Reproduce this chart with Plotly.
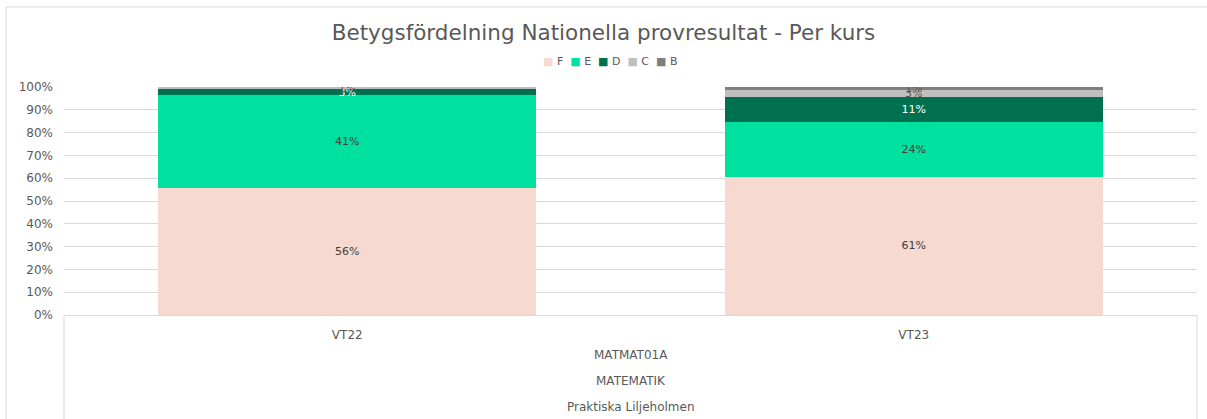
import plotly.graph_objects as go

terms = ["VT22", "VT23"]
grades = ["F", "E", "D", "C", "B"]
share_f = [0.556, 0.607]
share_e = [0.407, 0.238]
share_d = [0.028, 0.112]
share_c = [0.009, 0.032]
share_b = [0.0, 0.011]
course_levels = ["MATMAT01A", "MATEMATIK", "Praktiska Liljeholmen"]

colors = ["#F6D9CF", "#00E09F", "#00704F", "#BFBFBF", "#7F7F7F"]
label_colors = ["#404040", "#404040", "#FFFFFF", "#595959", "#595959"]
font = "'DejaVu Sans', sans-serif"
grey = "#595959"

fig = go.Figure()
for grade, vals, col, tcol in zip(grades, [share_f, share_e, share_d, share_c, share_b], colors, label_colors):
    fig.add_trace(
        go.Bar(
            x=terms,
            y=vals,
            name=grade,
            marker=dict(color=col, line=dict(width=0)),
            text=[f"{v:.0%}" if v > 0 else "" for v in vals],
            textposition="inside",
            insidetextanchor="middle",
            textangle=0,
            textfont=dict(color=tcol, size=11, family=font),
            constraintext="none",
            hoverinfo="name+y",
            showlegend=False,
        )
    )

# compact legend drawn as one line of text
legend_html = "&nbsp;&nbsp;".join(
    f"<span style='color:{c}'>■</span>&nbsp;{g}" for g, c in zip(grades, colors)
)
fig.add_annotation(
    text=legend_html, xref="paper", yref="paper", x=0.482, y=1.114,
    xanchor="center", yanchor="middle", showarrow=False,
    font=dict(size=11, color=grey, family=font),
)

# multi-level category labels under the axis
for i, lbl in enumerate(course_levels):
    fig.add_annotation(
        text=lbl, xref="paper", yref="paper", x=0.5, y=-0.215 - i * 0.114,
        showarrow=False, font=dict(size=12, color=grey, family=font),
    )

shapes = [
    # outer chart frame
    dict(type="rect", xref="paper", yref="paper", x0=-0.0512, x1=1.02, y0=-0.6, y1=1.351,
         line=dict(color="#D9D9D9", width=1)),
    # category box sides
    dict(type="line", xref="paper", yref="paper", x0=0, x1=0, y0=0, y1=-0.6,
         line=dict(color="#D9D9D9", width=1)),
    dict(type="line", xref="paper", yref="paper", x0=1, x1=1, y0=0, y1=-0.6,
         line=dict(color="#D9D9D9", width=1)),
]

fig.update_layout(
    width=1207,
    height=419,
    autosize=False,
    margin=dict(l=64, r=10, t=87, b=104, autoexpand=False),
    paper_bgcolor="white",
    plot_bgcolor="white",
    barmode="stack",
    bargap=0.333,
    showlegend=False,
    shapes=shapes,
    title=dict(
        text="Betygsfördelning Nationella provresultat - Per kurs",
        x=0.5, xref="container", y=0.923, yref="container", yanchor="middle", xanchor="center",
        font=dict(size=21.5, color=grey, family=font),
    ),
    xaxis=dict(
        showgrid=False, showline=True, linecolor="#D9D9D9", ticks="", ticklabelstandoff=9,
        tickfont=dict(size=12, color=grey, family=font), fixedrange=True,
    ),
    yaxis=dict(
        range=[0, 1], dtick=0.1, tickformat=".0%", showgrid=True, gridcolor="#D9D9D9",
        zeroline=False, showline=False, ticks="", ticklabelstandoff=10,
        tickfont=dict(size=12, color=grey, family=font), fixedrange=True,
    ),
)

fig.write_html(
    "out.html",
    config={"displayModeBar": False},
    post_script="document.body.style.margin='0';document.body.style.overflow='hidden';",
)
